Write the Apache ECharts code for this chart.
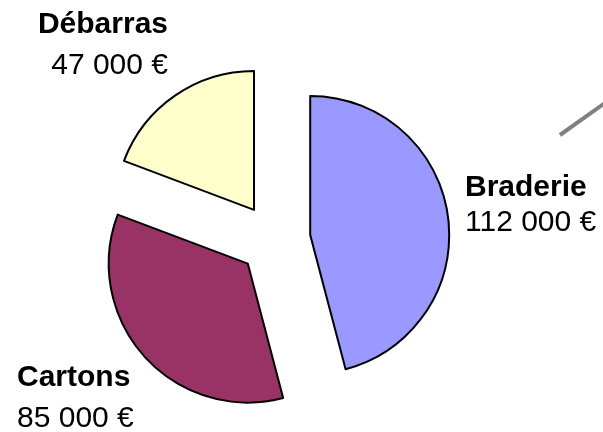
<!DOCTYPE html>
<html>
<head>
<meta charset="utf-8">
<script src="https://cdn.jsdelivr.net/npm/echarts@6/dist/echarts.min.js"></script>
<style>
  html, body { margin: 0; padding: 0; background: #fff; }
  #chart { width: 603px; height: 432px; }
</style>
</head>
<body>
<div id="chart"></div>
<script>
// données
const categories = ['Braderie', 'Cartons', 'Débarras']
const values = [112000, 85000, 47000]
const colors = ['#9999FF', '#993366', '#FFFFCC']

// placement des étiquettes (x, centre du bloc, alignement, interligne)
const labelPos = [
  { x: 465, y: 205, align: 'left', lineHeight: 35 },
  { x: 17, y: 398, align: 'left', lineHeight: 41 },
  { x: 168, y: 45, align: 'right', lineHeight: 41 },
]

const FONT = 'Liberation Sans, Arial, sans-serif'
const formatEuro = (v) => v.toString().replace(/\B(?=(\d{3})+(?!\d))/g, ' ') + ' €'

const chart = echarts.init(document.getElementById('chart'))

// étiquettes : nom en gras + montant
const labelGraphics = []
categories.forEach((name, i) => {
  const p = labelPos[i]
  labelGraphics.push({
    type: 'text',
    silent: true,
    style: {
      text: name,
      x: p.x,
      y: p.y - p.lineHeight / 2,
      align: p.align,
      verticalAlign: 'middle',
      font: 'bold 30px ' + FONT,
      fill: '#000',
    },
  })
  labelGraphics.push({
    type: 'text',
    silent: true,
    style: {
      text: formatEuro(values[i]),
      x: p.x,
      y: p.y + p.lineHeight / 2,
      align: p.align,
      verticalAlign: 'middle',
      font: '30px ' + FONT,
      fill: '#000',
    },
  })
})

const option = {
  animation: false,
  backgroundColor: '#fff',
  graphic: [
    {
      type: 'line',
      shape: { x1: 560, y1: 135, x2: 612, y2: 98 },
      style: { stroke: '#808080', lineWidth: 4 },
      silent: true,
    },
  ].concat(labelGraphics),
  series: [
    {
      type: 'pie',
      center: [274.5, 239.5],
      radius: 139,
      startAngle: 90,
      clockwise: true,
      selectedMode: 'multiple',
      selectedOffset: 36,
      emphasis: { disabled: true, scale: false },
      itemStyle: {
        borderColor: '#000',
        borderWidth: 2,
      },
      select: {
        itemStyle: { borderColor: '#000', borderWidth: 2 },
      },
      label: { show: false },
      labelLine: { show: false },
      data: categories.map((name, i) => ({
        name: name,
        value: values[i],
        selected: true,
        itemStyle: { color: colors[i] },
      })),
    },
  ],
}

chart.setOption(option)
</script>
</body>
</html>
